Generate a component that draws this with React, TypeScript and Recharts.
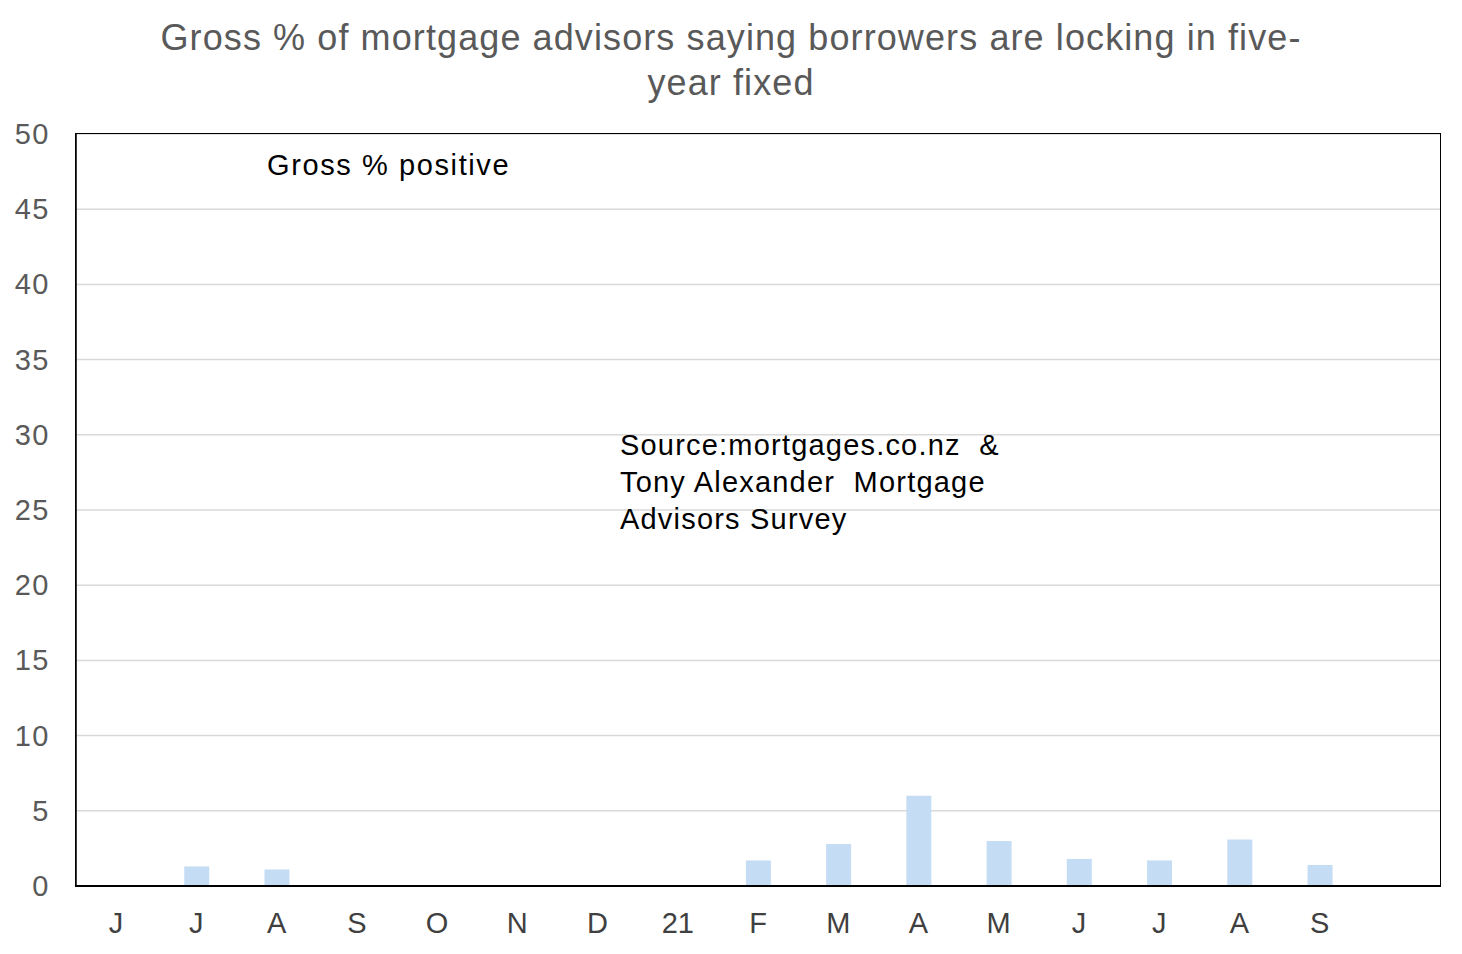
import { BarChart, Bar, XAxis, YAxis, CartesianGrid } from 'recharts';

// Jun 2020 .. Oct 2021, monthly survey
const MONTHS = ['J', 'J', 'A', 'S', 'O', 'N', 'D', '21', 'F', 'M', 'A', 'M', 'J', 'J', 'A', 'S', ''];
const GROSS_POSITIVE: (number | null)[] = [
  null, 1.3, 1.1, null, null, null, null, null, 1.7, 2.8, 6.0, 3.0, 1.8, 1.7, 3.1, 1.4, null,
];
const Y_TICKS = [0, 5, 10, 15, 20, 25, 30, 35, 40, 45, 50];

const chartData = MONTHS.map((m, i) => ({ key: i, month: m, value: GROSS_POSITIVE[i] }));

const FONT = '"Liberation Sans", Arial, sans-serif';

// eslint-disable-next-line @typescript-eslint/no-explicit-any
function YTick({ x, y, payload }: any) {
  return (
    <text x={x - 18} y={y} dy={10} textAnchor="end" fontSize={29} letterSpacing={1.5} fill="#595959" fontFamily={FONT}>
      {payload.value}
    </text>
  );
}

// eslint-disable-next-line @typescript-eslint/no-explicit-any
function XTick({ x, y, payload }: any) {
  return (
    <text x={x} y={y} dy={39} textAnchor="middle" fontSize={29} fill="#404040" fontFamily={FONT}>
      {MONTHS[payload.value]}
    </text>
  );
}

export default function App() {
  return (
    <div style={{ position: 'absolute', left: 0, top: 0, width: 1462, height: 954, background: '#fff', fontFamily: FONT }}>
      <div
        style={{
          position: 'absolute',
          left: 0,
          top: 15,
          width: 1462,
          textAlign: 'center',
          fontSize: 36,
          letterSpacing: 1.1,
          lineHeight: '45px',
          color: '#595959',
        }}
      >
        Gross % of mortgage advisors saying borrowers are locking in five-
        <br />
        year fixed
      </div>
      <BarChart
        width={1462}
        height={954}
        data={chartData}
        margin={{ top: 134, right: 22, bottom: 0, left: 16 }}
        barCategoryGap={0}
      >
        <CartesianGrid horizontal vertical={false} stroke="#d9d9d9" strokeWidth={1.5} />
        <XAxis
          dataKey="key"
          tick={<XTick />}
          tickLine={false}
          axisLine={{ stroke: '#000', strokeWidth: 2 }}
          height={68}
          interval={0}
        />
        <YAxis
          domain={[0, 50]}
          ticks={Y_TICKS}
          tick={<YTick />}
          tickLine={false}
          axisLine={{ stroke: '#000', strokeWidth: 1.5 }}
          width={60}
          interval={0}
        />
        <Bar dataKey="value" fill="#c5dcf5" barSize={25} isAnimationActive={false} />
      </BarChart>
      {/* plot area frame */}
      <div
        style={{
          position: 'absolute',
          left: 75,
          top: 133,
          width: 1364,
          height: 752,
          border: '1.5px solid #000',
          pointerEvents: 'none',
        }}
      />
      <div style={{ position: 'absolute', left: 267, top: 149, fontSize: 29, letterSpacing: 1.6, color: '#000' }}>
        Gross % positive
      </div>
      <div
        style={{
          position: 'absolute',
          left: 620,
          top: 427,
          fontSize: 29,
          letterSpacing: 1.2,
          lineHeight: '37px',
          color: '#000',
          whiteSpace: 'pre',
        }}
      >
        {'Source:mortgages.co.nz  &\nTony Alexander  Mortgage\nAdvisors Survey'}
      </div>
    </div>
  );
}
